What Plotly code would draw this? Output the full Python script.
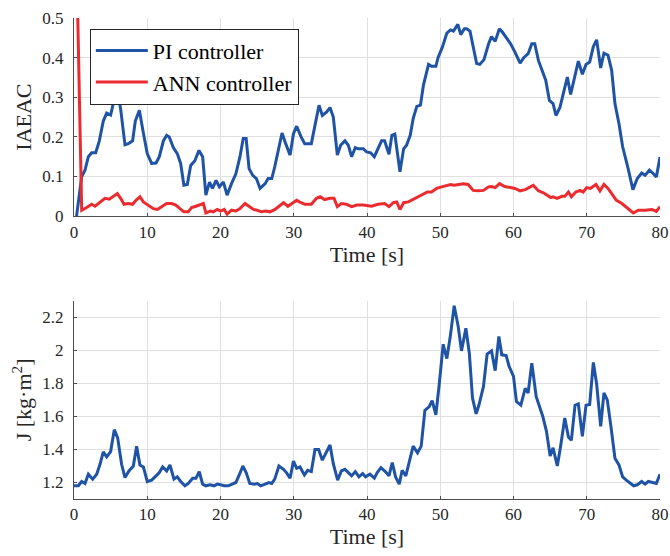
import plotly.graph_objects as go

# ---------- data ----------
t_pi = [0.35, 1.05, 1.5, 1.96, 2.41, 2.96, 3.46, 4.0, 4.46, 5.0, 5.37, 5.92, 6.37, 6.96, 7.42, 8.0, 8.37,
        8.92, 9.47, 10.0, 10.6, 11.2, 11.65, 12.2, 12.65, 13.0, 13.56, 14.1, 14.56, 15.0, 15.47, 15.93,
        16.5, 17.06, 17.56, 18.0, 18.5, 18.9, 19.4, 19.84, 20.4, 20.9, 21.5, 22.1, 22.66, 23.1, 23.5,
        23.9, 24.4, 24.9, 25.4, 26.1, 26.5, 27.0, 27.4, 27.9, 28.4, 28.9, 29.5, 29.96, 30.4, 31.0, 31.5,
        32.4, 32.9, 33.45, 33.9, 34.5, 34.95, 35.4, 35.95, 36.4, 36.99, 37.45, 37.9, 38.4, 38.8, 39.5,
        39.95, 40.5, 41.0, 41.5, 41.99, 42.4, 43.0, 43.4, 43.8, 44.5, 45.0, 45.4, 45.9, 46.3, 46.8, 47.3,
        47.7, 48.4, 48.8, 49.4, 49.7, 50.3, 50.9, 51.4, 51.8, 52.4, 52.8, 53.3, 53.6, 54.06, 54.5,
        54.97, 55.4, 55.97, 56.6, 57.0, 57.5, 58.07, 58.5, 59.06, 59.6, 60.2, 60.9, 61.4, 62.0, 62.5,
        62.9, 63.4, 63.85, 64.4, 64.9, 65.4, 65.8, 66.35, 66.9, 67.35, 67.8, 68.3, 68.85, 69.4, 69.9,
        70.4, 70.9, 71.35, 71.9, 72.35, 72.9, 73.4, 73.85, 74.4, 74.9, 75.6, 76.3, 76.9, 77.5, 77.96,
        78.55, 79.0, 79.5, 80.0]
iaeac_pi = [0.0, 0.1, 0.116, 0.15, 0.16, 0.16, 0.19, 0.24, 0.26, 0.255, 0.285, 0.32, 0.27, 0.18, 0.183,
            0.19, 0.24, 0.267, 0.21, 0.158, 0.133, 0.134, 0.15, 0.19, 0.204, 0.2, 0.173, 0.158, 0.133,
            0.078, 0.08, 0.128, 0.14, 0.166, 0.15, 0.053, 0.086, 0.07, 0.09, 0.074, 0.086, 0.053, 0.082,
            0.107, 0.15, 0.196, 0.196, 0.12, 0.103, 0.095, 0.07, 0.082, 0.095, 0.095, 0.124, 0.166, 0.21,
            0.183, 0.154, 0.208, 0.227, 0.2, 0.183, 0.183, 0.23, 0.28, 0.254, 0.263, 0.274, 0.25, 0.154,
            0.179, 0.19, 0.179, 0.15, 0.173, 0.17, 0.17, 0.162, 0.16, 0.15, 0.17, 0.19, 0.19, 0.156,
            0.204, 0.207, 0.112, 0.17, 0.179, 0.204, 0.246, 0.277, 0.28, 0.33, 0.383, 0.378, 0.378, 0.4,
            0.427, 0.462, 0.47, 0.467, 0.484, 0.458, 0.473, 0.473, 0.467, 0.427, 0.385, 0.383, 0.395,
            0.435, 0.453, 0.441, 0.473, 0.464, 0.448, 0.435, 0.414, 0.386, 0.4, 0.41, 0.435, 0.435,
            0.393, 0.368, 0.343, 0.292, 0.284, 0.254, 0.275, 0.317, 0.351, 0.307, 0.351, 0.391, 0.358,
            0.383, 0.389, 0.428, 0.445, 0.374, 0.411, 0.406, 0.368, 0.284, 0.233, 0.175, 0.124, 0.067,
            0.095, 0.109, 0.103, 0.116, 0.109, 0.099, 0.149]

t_ann = [0.45, 1.05, 1.73, 2.41, 2.87, 3.55, 4.23, 4.82, 5.37, 5.92, 6.37, 6.83, 7.42, 8.0, 8.46, 9.0,
         9.47, 10.15, 10.83, 11.38, 11.97, 12.65, 13.33, 13.9, 14.47, 15.0, 15.6, 16.06, 16.65, 17.2,
         17.66, 18.0, 18.6, 19.0, 19.57, 20.0, 20.5, 20.9, 21.5, 22.1, 22.66, 23.35, 23.94, 24.5, 25.0,
         25.6, 26.2, 26.76, 27.44, 27.96, 28.6, 29.2, 29.75, 30.4, 31.0, 31.5, 32.4, 33.1, 33.6, 34.2,
         34.95, 35.5, 35.95, 36.5, 37.2, 37.9, 38.6, 39.5, 40.6, 41.5, 42.4, 43.0, 43.6, 44.05, 44.5,
         45.0, 45.65, 46.3, 46.99, 47.6, 48.25, 48.8, 49.5, 50.2, 50.9, 51.4, 51.9, 52.5, 53.15, 53.8,
         54.5, 55.2, 55.9, 56.6, 57.0, 57.5, 58.1, 58.8, 59.5, 60.2, 60.9, 61.6, 62.3, 62.7, 63.4,
         64.1, 64.6, 65.1, 65.4, 65.95, 66.6, 67.0, 67.5, 67.9, 68.5, 69.1, 69.5, 69.99, 70.5, 71.26,
         71.8, 72.35, 72.9, 73.5, 74.05, 74.8, 75.45, 76.35, 77.05, 77.96, 78.9, 79.5, 80.0]
iaeac_ann = [0.56, 0.015, 0.022, 0.03, 0.025, 0.036, 0.045, 0.043, 0.05, 0.057, 0.045, 0.03, 0.032, 0.03,
             0.04, 0.049, 0.036, 0.028, 0.019, 0.017, 0.025, 0.032, 0.032, 0.028, 0.019, 0.011, 0.011,
             0.022, 0.025, 0.028, 0.032, 0.008, 0.013, 0.011, 0.017, 0.013, 0.017, 0.005, 0.015, 0.013,
             0.019, 0.032, 0.024, 0.017, 0.015, 0.011, 0.013, 0.011, 0.017, 0.024, 0.034, 0.025, 0.032,
             0.04, 0.034, 0.03, 0.03, 0.045, 0.049, 0.042, 0.045, 0.045, 0.024, 0.032, 0.03, 0.024,
             0.028, 0.028, 0.025, 0.03, 0.032, 0.024, 0.034, 0.036, 0.017, 0.034, 0.036, 0.042, 0.049,
             0.053, 0.061, 0.061, 0.07, 0.074, 0.078, 0.08, 0.078, 0.08, 0.082, 0.08, 0.065, 0.064,
             0.065, 0.074, 0.075, 0.072, 0.082, 0.075, 0.072, 0.07, 0.064, 0.067, 0.074, 0.078, 0.064,
             0.059, 0.053, 0.047, 0.049, 0.045, 0.05, 0.05, 0.061, 0.049, 0.061, 0.065, 0.061, 0.072,
             0.07, 0.08, 0.064, 0.08, 0.07, 0.053, 0.04, 0.032, 0.022, 0.008, 0.015, 0.015, 0.017,
             0.012, 0.024]

t_j = [0.0, 0.6, 1.05, 1.5, 1.96, 2.55, 3.1, 3.55, 4.0, 4.46, 5.0, 5.5, 5.96, 6.5, 6.96, 7.5, 8.1, 8.55,
       9.0, 9.47, 10.0, 10.6, 11.2, 11.65, 12.1, 12.65, 13.1, 13.65, 14.1, 14.56, 15.15, 15.6, 16.2,
       16.65, 17.1, 17.56, 18.0, 18.57, 19.1, 19.57, 20.0, 20.5, 21.07, 21.66, 22.1, 22.6, 23.05, 23.5,
       24.0, 24.6, 25.0, 25.5, 26.1, 26.6, 27.0, 27.4, 27.98, 28.6, 29.0, 29.5, 29.96, 30.4, 30.85,
       31.45, 31.9, 32.4, 32.9, 33.4, 33.9, 34.5, 34.95, 35.4, 35.99, 36.5, 36.99, 37.45, 37.9, 38.4,
       38.9, 39.4, 39.8, 40.4, 41.0, 41.4, 41.9, 42.5, 43.0, 43.45, 43.9, 44.4, 44.8, 45.3, 45.75,
       46.3, 46.9, 47.4, 47.9, 48.5, 48.9, 49.4, 49.85, 50.4, 50.9, 51.4, 51.9, 52.45, 52.9, 53.3,
       53.5, 53.97, 54.4, 54.9, 55.3, 55.9, 56.4, 57.0, 57.5, 58.0, 58.4, 59.0, 59.4, 60.0, 60.4, 61.0,
       61.6, 62.0, 62.5, 63.1, 63.6, 64.0, 64.5, 65.0, 65.4, 65.98, 66.4, 67.0, 67.5, 67.9, 68.4,
       68.85, 69.4, 69.9, 70.4, 70.9, 71.35, 71.9, 72.35, 72.8, 73.3, 73.85, 74.4, 74.9, 75.4, 75.97,
       76.4, 76.9, 77.5, 77.96, 78.4, 79.0, 79.5, 80.0]
j_pi = [1.18, 1.18, 1.206, 1.194, 1.25, 1.22, 1.25, 1.31, 1.385, 1.355, 1.387, 1.52, 1.47, 1.31, 1.23,
        1.27, 1.3, 1.42, 1.306, 1.294, 1.206, 1.214, 1.24, 1.26, 1.294, 1.27, 1.306, 1.22, 1.234, 1.206,
        1.18, 1.194, 1.226, 1.226, 1.266, 1.19, 1.18, 1.186, 1.18, 1.19, 1.186, 1.18, 1.18, 1.19, 1.2,
        1.25, 1.3, 1.26, 1.194, 1.19, 1.194, 1.18, 1.19, 1.2, 1.194, 1.22, 1.3, 1.28, 1.26, 1.226, 1.33,
        1.286, 1.294, 1.246, 1.274, 1.266, 1.4, 1.4, 1.335, 1.387, 1.427, 1.314, 1.214, 1.27, 1.28,
        1.26, 1.24, 1.266, 1.234, 1.254, 1.234, 1.25, 1.226, 1.26, 1.29, 1.266, 1.24, 1.32, 1.234,
        1.19, 1.274, 1.24, 1.32, 1.42, 1.38, 1.42, 1.636, 1.66, 1.696, 1.61, 1.79, 2.037, 1.95, 2.094,
        2.27, 2.144, 1.997, 2.1, 2.134, 1.983, 1.712, 1.616, 1.672, 1.782, 1.977, 1.997, 1.877, 2.084,
        1.973, 1.969, 1.903, 1.843, 1.69, 1.668, 1.77, 1.742, 1.923, 1.72, 1.65, 1.6, 1.51, 1.36, 1.41,
        1.3, 1.41, 1.59, 1.475, 1.455, 1.668, 1.676, 1.48, 1.668, 1.672, 1.927, 1.796, 1.54, 1.742,
        1.7, 1.54, 1.347, 1.306, 1.234, 1.214, 1.194, 1.18, 1.186, 1.206, 1.19, 1.206, 1.2, 1.194, 1.25]

x_ticks = [0, 10, 20, 30, 40, 50, 60, 70, 80]
y1_ticks = [0, 0.1, 0.2, 0.3, 0.4, 0.5]
y1_labels = ["0", "0.1", "0.2", "0.3", "0.4", "0.5"]
y2_ticks = [1.2, 1.4, 1.6, 1.8, 2.0, 2.2]
y2_labels = ["1.2", "1.4", "1.6", "1.8", "2", "2.2"]

# ---------- styling ----------
BLUE = "#1f53a6"
RED = "#ec2b2f"
FONT = "Liberation Serif, Times New Roman, serif"
TXT = "#262626"
GRID = "#e0e0e0"
AXIS = "#4d4d4d"

fig = go.Figure()
fig.add_trace(go.Scatter(x=t_pi, y=iaeac_pi, mode="lines", name="PI controller",
                         line=dict(color=BLUE, width=3), xaxis="x", yaxis="y"))
fig.add_trace(go.Scatter(x=t_ann, y=iaeac_ann, mode="lines", name="ANN controller",
                         line=dict(color=RED, width=3), xaxis="x", yaxis="y"))
fig.add_trace(go.Scatter(x=t_j, y=j_pi, mode="lines", showlegend=False,
                         line=dict(color=BLUE, width=3), xaxis="x2", yaxis="y2"))

axis_common = dict(showgrid=True, gridcolor=GRID, gridwidth=1, showline=True, linecolor=AXIS,
                   linewidth=1, ticks="inside", ticklen=3, tickcolor=AXIS, zeroline=False,
                   automargin=False,
                   tickfont=dict(family=FONT, size=17, color=TXT))
title_font = dict(family=FONT, size=22, color=TXT)

fig.update_layout(
    width=670, height=556,
    margin=dict(l=74, r=10, t=18, b=57),
    paper_bgcolor="white", plot_bgcolor="white",
    font=dict(family=FONT, color=TXT),
    xaxis=dict(domain=[0, 1], anchor="y", range=[0, 80], tickvals=x_ticks,
               title=dict(text="Time [s]", font=title_font, standoff=5),
               **axis_common),
    yaxis=dict(domain=[0.588, 1], anchor="x", range=[0, 0.5], tickvals=y1_ticks, ticktext=y1_labels,
               ticklabelstandoff=6,
               title=dict(text="IAEAC", font=title_font, standoff=4),
               **axis_common),
    xaxis2=dict(domain=[0, 1], anchor="y2", range=[0, 80], tickvals=x_ticks,
                title=dict(text="Time [s]", font=title_font, standoff=5),
                **axis_common),
    yaxis2=dict(domain=[0, 0.412], anchor="x2", range=[1.1, 2.3], tickvals=y2_ticks, ticktext=y2_labels,
                ticklabelstandoff=6,
                title=dict(text="J [kg·m<sup>2</sup>]", font=title_font, standoff=4),
                **axis_common),
    legend=dict(x=0.027, y=0.978, xref="paper", yref="paper", xanchor="left", yanchor="top",
                bgcolor="white", bordercolor="#262626", borderwidth=1,
                font=dict(family=FONT, size=22, color="black"), tracegroupgap=0,
                itemwidth=52),
    showlegend=True,
)

fig.write_html("out.html")
